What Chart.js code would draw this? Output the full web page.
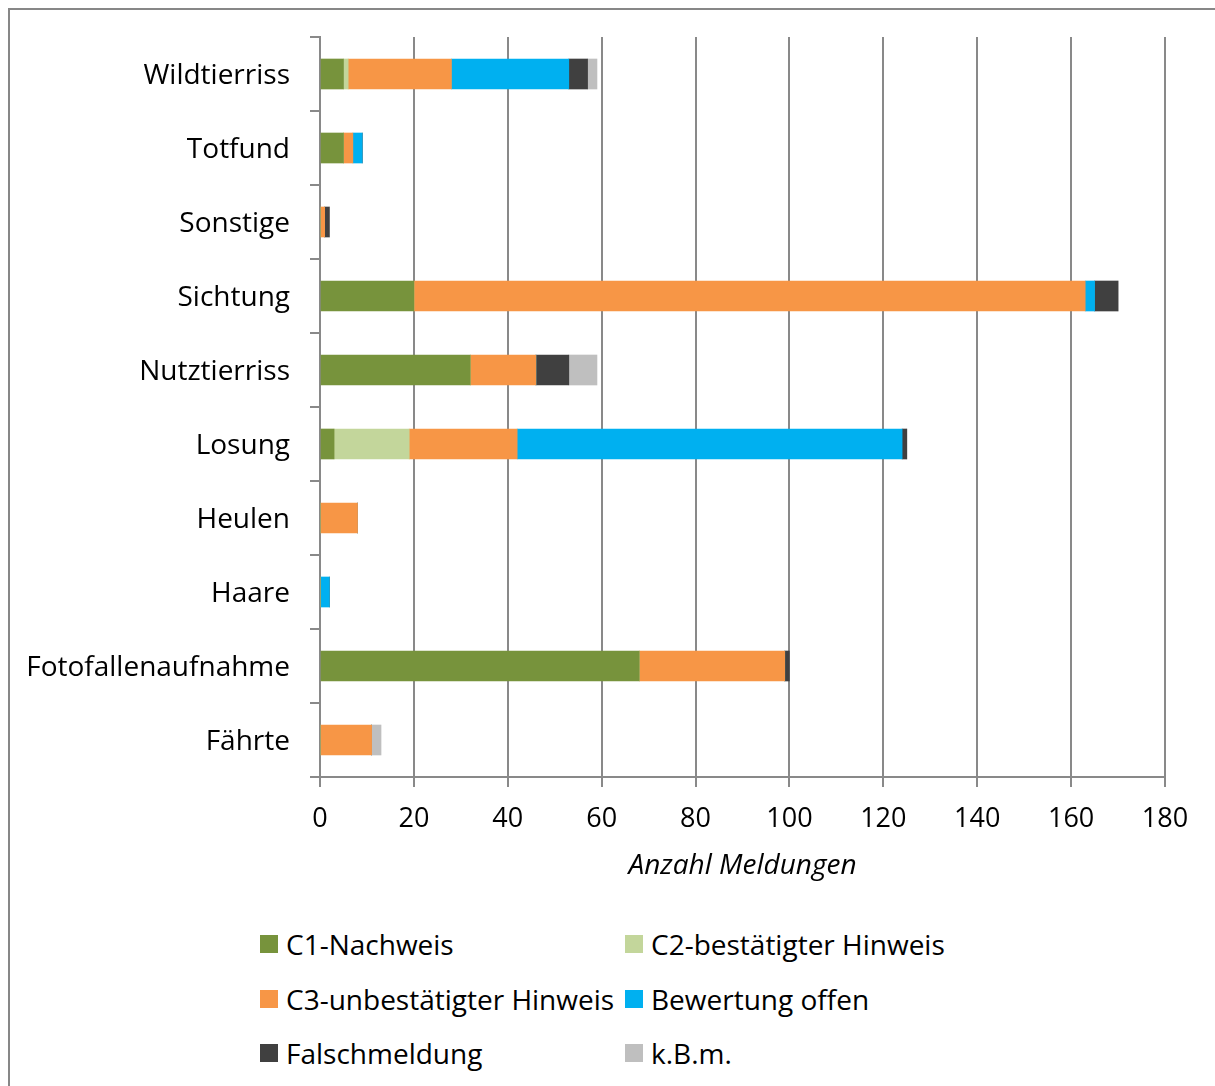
<!DOCTYPE html>
<html>
<head>
<meta charset="utf-8">
<script src="https://cdn.jsdelivr.net/npm/chart.js@4"></script>
<style>
  body { margin: 0; background: #fff; font-family: "Open Sans", sans-serif; }
  #page { position: relative; width: 1215px; height: 1086px; overflow: hidden; }
  #frame { position: absolute; left: 8px; top: 8px; width: 1240px; height: 1120px; border: 2px solid #878787; }
  #wrap { position: absolute; left: 0; top: 0; width: 1215px; height: 900px; }
  #legend { position: absolute; left: 0; top: 0; }
  .item { position: absolute; font-size: 28px; color: #000; line-height: 30px; white-space: nowrap; }
  .box { position: absolute; left: 0; top: 6px; width: 18px; height: 18px; }
  .item span.t { position: absolute; left: 26px; top: 0; }
</style>
</head>
<body>
<div id="page">
  <div id="frame"></div>
  <div id="wrap"><canvas id="chart"></canvas></div>
  <div id="legend"></div>
</div>
<script>
// ===== Daten =====
const kategorien = ['Wildtierriss', 'Totfund', 'Sonstige', 'Sichtung', 'Nutztierriss',
                    'Losung', 'Heulen', 'Haare', 'Fotofallenaufnahme', 'Fährte'];
const c1Nachweis     = [5, 5, 0, 20, 32, 3, 0, 0, 68, 0];
const c2Hinweis      = [1, 0, 0, 0, 0, 16, 0, 0, 0, 0];
const c3Hinweis      = [22, 2, 1, 143, 14, 23, 8, 0, 31, 11];
const offen          = [25, 2, 0, 2, 0, 82, 0, 2, 0, 0];
const falschmeldung  = [4, 0, 1, 5, 7, 1, 0, 0, 1, 0];
const kbm            = [2, 0, 0, 0, 6, 0, 0, 0, 0, 2];
const serienNamen = ['C1-Nachweis', 'C2-bestätigter Hinweis', 'C3-unbestätigter Hinweis',
                     'Bewertung offen', 'Falschmeldung', 'k.B.m.'];
const farben = ['#77933C', '#C3D69B', '#F79646', '#00B0F0', '#404040', '#BFBFBF'];
const xTicks = [0, 20, 40, 60, 80, 100, 120, 140, 160, 180];

const serien = [c1Nachweis, c2Hinweis, c3Hinweis, offen, falschmeldung, kbm];
const FONT = '"Open Sans", sans-serif';
const GRAU = '#898989';

const datasets = serien.map((d, i) => ({
  label: serienNamen[i],
  data: d,
  backgroundColor: farben[i],
  borderWidth: 0,
  barThickness: 30
}));

new Chart(document.getElementById('chart').getContext('2d'), {
  type: 'bar',
  data: { labels: kategorien, datasets: datasets },
  options: {
    indexAxis: 'y',
    responsive: true,
    maintainAspectRatio: false,
    animation: false,
    layout: { padding: { top: 37, right: 50, bottom: 13, left: 0 } },
    plugins: { legend: { display: false }, tooltip: { enabled: false } },
    scales: {
      x: {
        stacked: true,
        min: 0, max: 180,
        afterBuildTicks: s => { s.ticks = xTicks.map(v => ({ value: v })); },
        afterFit: s => { s.height = 110; },
        grid: { color: GRAU, lineWidth: 2, tickLength: 10, drawTicks: true },
        border: { display: true, color: GRAU, width: 2 },
        ticks: { color: '#000', font: { family: FONT, size: 27 }, padding: 16, maxRotation: 0 },
        title: { display: true, text: 'Anzahl Meldungen', color: '#000',
                 font: { family: FONT, size: 28, style: 'italic' }, padding: { top: 0, bottom: 4 } }
      },
      y: {
        stacked: true,
        afterFit: s => { s.width = 320; },
        grid: { offset: true, drawOnChartArea: false, color: GRAU, lineWidth: 2, tickLength: 10 },
        border: { display: true, color: GRAU, width: 2 },
        ticks: { color: '#000', font: { family: FONT, size: 28 }, padding: 20, labelOffset: 2 }
      }
    }
  }
});

// ===== Legende =====
const legend = document.getElementById('legend');
const spalteX = [260, 625];
const zeileY = [929, 984, 1038];
serienNamen.forEach((name, i) => {
  const el = document.createElement('div');
  el.className = 'item';
  el.style.left = spalteX[i % 2] + 'px';
  el.style.top = zeileY[Math.floor(i / 2)] + 'px';
  el.innerHTML = '<div class="box" style="background:' + farben[i] + '"></div><span class="t"></span>';
  el.querySelector('.t').textContent = name;
  legend.appendChild(el);
});
</script>
</body>
</html>
